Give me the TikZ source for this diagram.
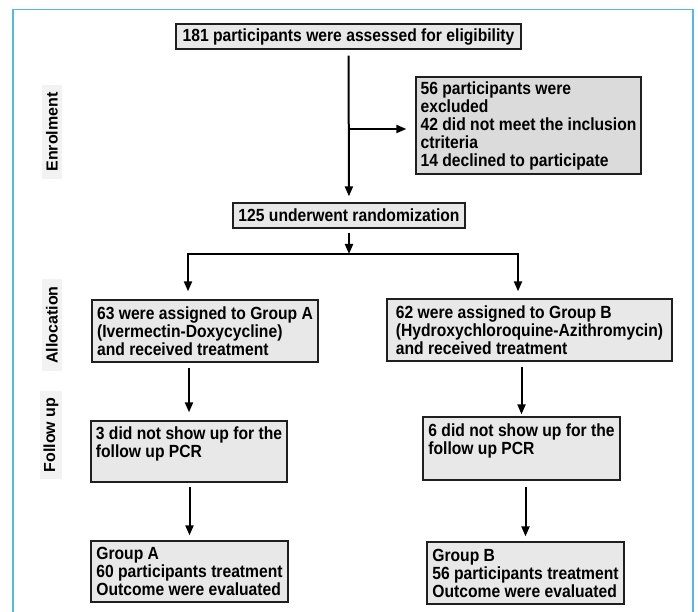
\documentclass[tikz,border=0pt]{standalone}
\usepackage{fontspec}
\setmainfont{Liberation Sans}
\newfontfamily\boxfont{Liberation Sans}[FakeStretch=0.89]
\usetikzlibrary{arrows.meta}
\definecolor{framecol}{RGB}{84,186,224}

\begin{document}
\begin{tikzpicture}[x=1pt,y=-1pt,
  box/.style={draw=black!88,line width=1.3pt,fill=black!9,inner xsep=4.5pt,inner ysep=3.5pt,align=left,
    font=\boxfont\fontsize{17.6}{18}\selectfont\bfseries},
  phase/.style={fill=black!5,rotate=90,inner xsep=7pt,inner ysep=4pt,font=\fontsize{16}{18}\selectfont\bfseries},
  arr/.style={-{Triangle[length=10pt,width=8pt]},line width=2pt}]
  \useasboundingbox (0,0) rectangle (698,612);
  \draw[framecol,line width=1.5pt] (13,612) -- (13,9.5) -- (693,9.5) -- (693,612);

  \path
  node[phase] (enrol) at (52,132) {Enrolment}
  node[phase] (alloc) at (52,325) {Allocation}
  node[phase] (follow) at (51,435) {Follow up}
  ;
  \path
  node[box,minimum width=345pt,minimum height=25pt] (elig) at (348.5,36.5) {181 participants were assessed for eligibility}
  node[box,fill=black!14,minimum width=225pt,minimum height=97pt] (excl) at (528.5,125.5)
    {56 participants were\\excluded\\42 did not meet the inclusion\\ctriteria\\14 declined to participate}
  node[box,minimum width=232pt,minimum height=25pt] (rand) at (349,215.5) {125 underwent randomization}
  node[box,minimum width=226pt,minimum height=62pt] (grpA) at (205,331)
    {63 were assigned to Group A\\(Ivermectin-Doxycycline)\\and received treatment}
  node[box,minimum width=285pt,minimum height=62pt] (grpB) at (529.5,330)
    {62 were assigned to Group B\\(Hydroxychloroquine-Azithromycin)\\and received treatment}
  node[box,minimum width=196pt,minimum height=61pt] (lostA) at (189,451.5)
    {3 did not show up for the\\follow up PCR\\\mbox{}}
  node[box,minimum width=197pt,minimum height=63pt] (lostB) at (521.5,448.5)
    {6 did not show up for the\\follow up PCR\\\mbox{}}
  node[box,minimum width=197pt,minimum height=61pt] (evalA) at (189.5,571.5)
    {Group A\\60 participants treatment\\Outcome were evaluated}
  node[box,minimum width=197pt,minimum height=62pt] (evalB) at (525.5,573)
    {Group B\\56 participants treatment\\Outcome were evaluated}
  ;

  \coordinate (excl-in) at (349,129);
  \coordinate (split) at (349,254);
  \coordinate (splitA) at (188,254);
  \coordinate (splitB) at (518,254);

  \draw[arr,shorten <=6pt,shorten >=6pt] (elig) -- (rand);
  \draw[arr,shorten >=9pt] (excl-in) -- (excl-in -| excl.west);
  \draw[arr,shorten <=4pt] (rand.south) -- (split);
  \draw[arr,shorten >=8pt] (split) -- (splitA) -- (splitA |- grpA.north);
  \draw[arr,shorten >=7pt] (split) -- (splitB) -- (splitB |- grpB.north);

  \draw[arr,shorten <=5pt,shorten >=8pt] (grpA.south -| lostA.north) -- (lostA.north);
  \draw[arr,shorten <=5pt,shorten >=2pt] (grpB.south -| lostB.north) -- (lostB.north);
  \draw[arr,shorten <=4pt,shorten >=5pt] (lostA.south -| evalA.north) -- (evalA.north);
  \draw[arr,shorten <=6pt,shorten >=5pt] (lostB.south -| evalB.north) -- (evalB.north);
\end{tikzpicture}
\end{document}
